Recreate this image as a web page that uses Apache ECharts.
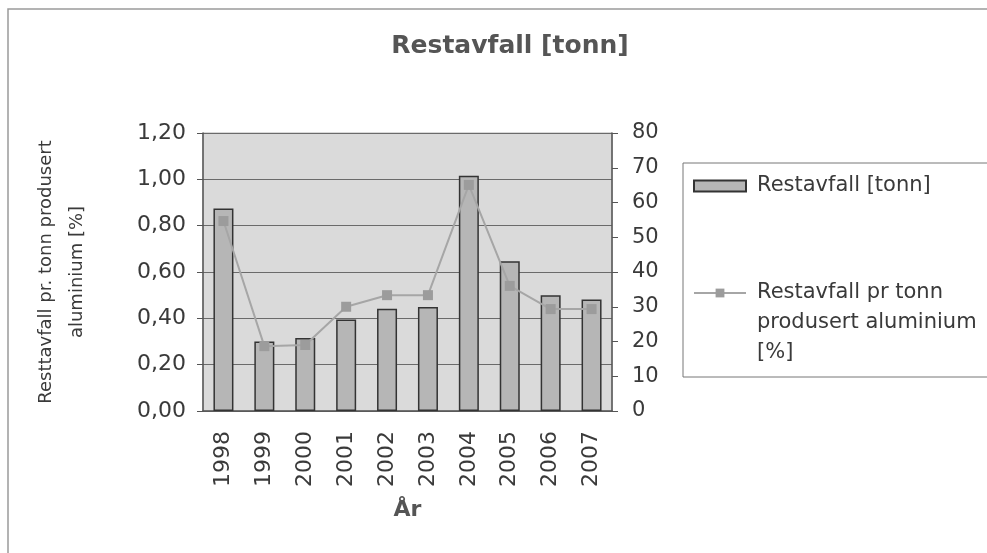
<!DOCTYPE html>
<html>
<head>
<meta charset="utf-8">
<script src="https://cdn.jsdelivr.net/npm/echarts@6/dist/echarts.min.js"></script>
<style>
    html, body { margin: 0; padding: 0; background: #fff; }
    #chart { width: 987px; height: 553px; }
</style>
</head>
<body>
<div id="chart"></div>
<script>
// 数据
const years = ['1998', '1999', '2000', '2001', '2002', '2003', '2004', '2005', '2006', '2007'];
const restavfallTonn = [58.3, 20.0, 21.0, 26.3, 29.4, 29.9, 67.7, 43.1, 33.3, 32.1];
const restavfallProsent = [0.82, 0.28, 0.285, 0.45, 0.50, 0.50, 0.976, 0.54, 0.44, 0.44];
const leftTicks = { min: 0, max: 1.2, interval: 0.2 };
const rightTicks = { min: 0, max: 80, interval: 10 };

const FONT = 'DejaVu Sans';
const TEXT = '#3a3a3a';

const chart = echarts.init(document.getElementById('chart'));

chart.setOption({
    animation: false,
    backgroundColor: '#ffffff',
    title: {
        text: 'Restavfall [tonn]',
        left: 505,
        top: 29,
        textAlign: 'center',
        textStyle: { fontFamily: FONT, fontSize: 25, fontWeight: 'bold', color: '#555' }
    },
    graphic: [{
        // 图表外框
        type: 'rect',
        shape: { x: 8, y: 9, width: 1100, height: 700 },
        style: { fill: 'none', stroke: '#9a9a9a', lineWidth: 1.5 },
        silent: true
    }],
    legend: {
        orient: 'vertical',
        left: 683,
        top: 163,
        padding: [8, 400, 9, 10],
        itemGap: 17,
        itemWidth: 52,
        itemHeight: 11,
        borderColor: '#777',
        borderWidth: 1,
        textStyle: { fontFamily: FONT, fontSize: 21, lineHeight: 30, color: TEXT, padding: [0, 0, 0, 6] },
        data: [
            { name: 'Restavfall [tonn]', icon: 'rect' },
            { name: 'Restavfall pr tonn produsert aluminium [%]' }
        ],
        formatter: function (name) {
            if (name === 'Restavfall [tonn]') return name;
            return '\n\nRestavfall pr tonn\nprodusert aluminium\n[%]';
        }
    },
    grid: {
        left: 203,
        right: 375,
        top: 133,
        bottom: 142,
        show: true,
        backgroundColor: '#dadada',
        borderColor: '#b0b0b0',
        borderWidth: 1
    },
    xAxis: {
        type: 'category',
        data: years,
        name: 'År',
        nameLocation: 'middle',
        nameGap: 88,
        nameTextStyle: { fontFamily: FONT, fontSize: 22, fontWeight: 'bold', color: '#555' },
        axisLine: { lineStyle: { color: '#555', width: 1.5 } },
        axisTick: { length: 6, lineStyle: { color: '#555' } },
        axisLabel: { rotate: 90, margin: 20, fontFamily: FONT, fontSize: 22, color: TEXT }
    },
    yAxis: [{
        type: 'value',
        min: leftTicks.min,
        max: leftTicks.max,
        interval: leftTicks.interval,
        position: 'left',
        name: 'Resttavfall pr. tonn produsert\naluminium [%]',
        nameLocation: 'middle',
        nameGap: 110,
        nameTextStyle: { fontFamily: FONT, fontSize: 18, lineHeight: 31, color: TEXT },
        axisLine: { show: true, lineStyle: { color: '#555', width: 1.5 } },
        axisTick: { show: true, length: 6, lineStyle: { color: '#555' } },
        axisLabel: {
            margin: 17, fontFamily: FONT, fontSize: 22, color: TEXT,
            formatter: v => v.toFixed(2).replace('.', ',')
        },
        splitLine: { show: true, lineStyle: { color: '#6a6a6a', width: 1 } }
    }, {
        type: 'value',
        min: rightTicks.min,
        max: rightTicks.max,
        interval: rightTicks.interval,
        position: 'right',
        axisLine: { show: true, lineStyle: { color: '#555', width: 1.5 } },
        axisTick: { show: true, length: 6, lineStyle: { color: '#555' } },
        axisLabel: { margin: 20, fontFamily: FONT, fontSize: 21, color: TEXT },
        splitLine: { show: false }
    }],
    series: [{
        name: 'Restavfall [tonn]',
        type: 'bar',
        yAxisIndex: 1,
        barWidth: 20,
        data: restavfallTonn,
        itemStyle: { color: '#b6b6b6', borderColor: '#333', borderWidth: 1.5 }
    }, {
        name: 'Restavfall pr tonn produsert aluminium [%]',
        type: 'line',
        yAxisIndex: 0,
        data: restavfallProsent,
        symbol: 'rect',
        symbolSize: 10,
        lineStyle: { color: '#a6a6a6', width: 2 },
        itemStyle: { color: '#9c9c9c' }
    }]
});
</script>
</body>
</html>
